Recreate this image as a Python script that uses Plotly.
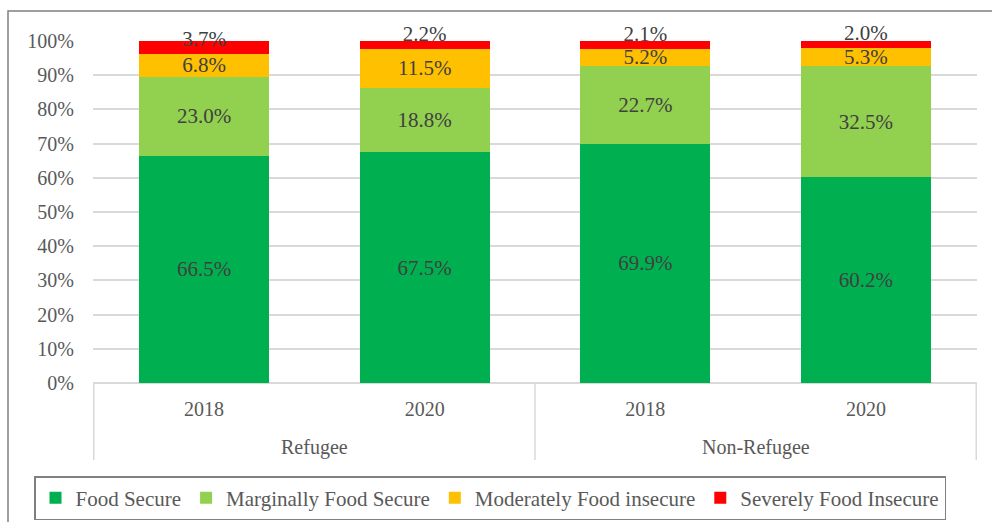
import plotly.graph_objects as go

groups = ["Refugee", "Refugee", "Non-Refugee", "Non-Refugee"]
years = ["2018", "2020", "2018", "2020"]
series_names = ["Food Secure", "Marginally Food Secure", "Moderately Food insecure", "Severely Food Insecure"]
food_secure = [66.5, 67.5, 69.9, 60.2]
marginal = [23.0, 18.8, 22.7, 32.5]
moderate = [6.8, 11.5, 5.2, 5.3]
severe = [3.7, 2.2, 2.1, 2.0]
colors = ["#00B050", "#92D050", "#FFC000", "#FF0000"]
y_ticks = [0, 10, 20, 30, 40, 50, 60, 70, 80, 90, 100]

FONT = "Liberation Serif"
W, H = 992, 522
L, R, T, B = 93, 15, 41, 139
pw, ph = W - L - R, H - T - B

def px_x(p):
    return (p - L) / pw

def px_y(p):
    return (H - B - p) / ph

# unique category keys, shown as year tick labels
keys = [f"{g} {y}" for g, y in zip(groups, years)]

fig = go.Figure()
all_vals = [food_secure, marginal, moderate, severe]
for i, (name, vals, col) in enumerate(zip(series_names, all_vals, colors)):
    top = i == len(all_vals) - 1
    fig.add_trace(go.Bar(
        x=keys, y=vals, name=name, marker=dict(color=col, line=dict(width=0)),
        text=[f"{v:.1f}%" for v in vals],
        textposition="inside",
        insidetextanchor="start" if top else "middle",
        textangle=0,
        constraintext="none", cliponaxis=False,
        textfont=dict(family=FONT, size=21, color="#404040"),
        hoverinfo="skip",
    ))

# group labels and dividers derived from the category groups
unique_groups = []
for g in groups:
    if g not in unique_groups:
        unique_groups.append(g)
annotations = []
shapes = []
boundaries = [-0.5]
for g in unique_groups:
    idx = [i for i, gg in enumerate(groups) if gg == g]
    annotations.append(dict(x=sum(idx) / len(idx), y=px_y(447), xref="x", yref="paper",
                            text=g, showarrow=False, yanchor="middle",
                            font=dict(family=FONT, size=20, color="#595959")))
    boundaries.append(max(idx) + 0.5)
for b in boundaries:
    shapes.append(dict(type="line", xref="x", yref="paper", x0=b, x1=b, y0=0, y1=px_y(460),
                       line=dict(color="#D9D9D9", width=1.5)))
shapes.append(dict(type="rect", xref="paper", yref="paper", x0=px_x(8), x1=px_x(1100),
                   y0=px_y(600), y1=px_y(11), line=dict(color="#808080", width=1.5),
                   fillcolor="rgba(0,0,0,0)", layer="below"))

fig.update_layout(
    barmode="stack", bargap=0.41,
    width=W, height=H,
    margin=dict(l=L, r=R, t=T, b=B, autoexpand=False),
    plot_bgcolor="white", paper_bgcolor="white",
    font=dict(family=FONT, size=20, color="#595959"),
    showlegend=True,
    legend=dict(orientation="h", x=px_x(34), xanchor="left", y=px_y(476), yanchor="top",
                bordercolor="#808080", borderwidth=1.5, font=dict(family=FONT, size=21, color="#595959"),
                traceorder="normal", itemwidth=30),
    xaxis=dict(type="category", categoryorder="array", categoryarray=keys,
               tickvals=keys, ticktext=years, showgrid=False, showline=False, ticks="",
               ticklabelstandoff=12,
               tickfont=dict(family=FONT, size=20, color="#595959"), automargin=False),
    yaxis=dict(range=[0, 100], tickvals=y_ticks, ticktext=[f"{v}%" for v in y_ticks],
               showgrid=True, gridcolor="#D9D9D9", gridwidth=1.5, zeroline=True,
               zerolinecolor="#D9D9D9", zerolinewidth=1.5, ticks="", ticklabelstandoff=18,
               tickfont=dict(family=FONT, size=20, color="#595959"), automargin=False),
    annotations=annotations,
    shapes=shapes,
)

fig.write_html("out.html", config={"displayModeBar": False},
               post_script="document.body.style.margin='0';")
